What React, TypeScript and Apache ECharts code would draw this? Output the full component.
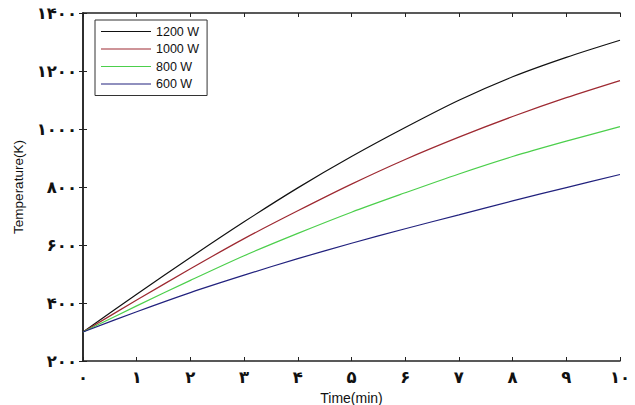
import React, { useEffect, useRef } from "react";
import * as echarts from "echarts";

const time = [0, 1, 2, 3, 4, 5, 6, 7, 8, 9, 10];
const w1200 = [300, 430, 557, 680, 797, 905, 1005, 1099, 1180, 1247, 1306];
const w1000 = [300, 410, 518, 622, 718, 810, 895, 972, 1043, 1108, 1167];
const w800 = [300, 390, 478, 563, 640, 713, 780, 845, 905, 958, 1008];
const w600 = [300, 370, 436, 496, 553, 606, 656, 704, 752, 798, 843];
const seriesNames = ["1200 W", "1000 W", "800 W", "600 W"];
const seriesColors = ["#111111", "#9e2a32", "#4ccf4c", "#22227e"];

const toPersian = (v: number) =>
  String(v).replace(/\d/g, (d) => "۰۱۲۳۴۵۶۷۸۹"[+d]);

export default function App() {
  const ref = useRef<HTMLDivElement>(null);
  useEffect(() => {
    if (!ref.current) return;
    const chart = echarts.init(ref.current, null, { renderer: "svg" });
    const allData = [w1200, w1000, w800, w600];
    const axisLine = { show: true, lineStyle: { color: "#222", width: 1.5 } };
    const tick = { show: true, inside: true, length: 4, lineStyle: { color: "#222", width: 1 } };
    const labelStyle = {
      fontFamily: "DejaVu Sans",
      fontWeight: "bold" as const,
      fontSize: 16.5,
      color: "#111",
    };
    chart.setOption({
      animation: false,
      backgroundColor: "#fff",
      grid: { left: 83, right: 15, top: 13, bottom: 44, outerBoundsMode: "none", containLabel: false },
      legend: {
        orient: "vertical",
        left: 95,
        top: 20,
        padding: [5, 8, 5, 6],
        itemGap: 4.5,
        itemWidth: 50,
        itemHeight: 1.2,
        icon: "rect",
        borderColor: "#333",
        borderWidth: 1,
        backgroundColor: "#fff",
        textStyle: { fontFamily: "Liberation Sans", fontSize: 12.5, color: "#111" },
        data: seriesNames,
      },
      xAxis: [
        {
          type: "value",
          min: 0,
          max: 10,
          interval: 1,
          position: "bottom",
          name: "Time(min)",
          nameLocation: "middle",
          nameGap: 29,
          nameTextStyle: { fontFamily: "Liberation Sans", fontSize: 14, color: "#111" },
          axisLine,
          axisTick: tick,
          splitLine: { show: false },
          axisLabel: { ...labelStyle, margin: 8, formatter: (v: number) => toPersian(v) },
        },
        {
          type: "value",
          min: 0,
          max: 10,
          interval: 1,
          position: "top",
          axisLine,
          axisTick: tick,
          splitLine: { show: false },
          axisLabel: { show: false },
        },
      ],
      yAxis: [
        {
          type: "value",
          min: 200,
          max: 1400,
          interval: 200,
          position: "left",
          name: "Temperature(K)",
          nameLocation: "middle",
          nameGap: 53,
          nameTextStyle: { fontFamily: "Liberation Sans", fontSize: 13.5, color: "#111" },
          axisLine,
          axisTick: tick,
          splitLine: { show: false },
          axisLabel: { ...labelStyle, margin: 6, formatter: (v: number) => toPersian(v) },
        },
        {
          type: "value",
          min: 200,
          max: 1400,
          interval: 200,
          position: "right",
          axisLine,
          axisTick: tick,
          splitLine: { show: false },
          axisLabel: { show: false },
        },
      ],
      series: allData.map((d, i) => ({
        name: seriesNames[i],
        type: "line",
        xAxisIndex: 0,
        yAxisIndex: 0,
        data: d.map((v, j) => [time[j], v]),
        smooth: 0.3,
        showSymbol: false,
        symbol: "none",
        lineStyle: { color: seriesColors[i], width: 1.2 },
        itemStyle: { color: seriesColors[i] },
      })),
    });
    return () => chart.dispose();
  }, []);
  return (
    <div
      ref={ref}
      style={{ position: "fixed", left: 0, top: 0, width: 635, height: 405 }}
    />
  );
}
